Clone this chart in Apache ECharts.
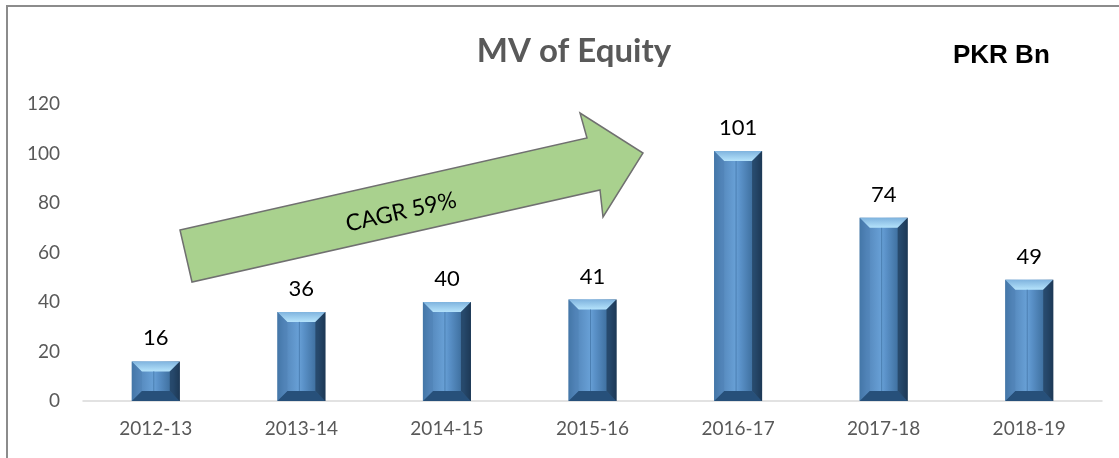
<!DOCTYPE html>
<html><head><meta charset="utf-8">
<script src="https://cdn.jsdelivr.net/npm/echarts@6/dist/echarts.min.js"></script>
<style>html,body{margin:0;padding:0;background:#fff}#c{width:1119px;height:458px}</style>
</head><body><div id="c"></div>
<script>
var categories = ['2012-13','2013-14','2014-15','2015-16','2016-17','2017-18','2018-19'];
var values = [16, 36, 40, 41, 101, 74, 49];
var yTicks = [0, 20, 40, 60, 80, 100, 120];
var titleText = 'MV of Equity';
var unitText = 'PKR Bn';
var arrowText = 'CAGR 59%';

var chart = echarts.init(document.getElementById('c'), null, {renderer:'canvas'});
var FONT = 'Lato, "Open Sans", sans-serif';

var barGrad = new echarts.graphic.LinearGradient(0,0,1,0,[
  {offset:0,color:'#3a6d9c'},{offset:0.15,color:'#5487bb'},
  {offset:0.45,color:'#68a0d6'},{offset:0.55,color:'#5a91c8'},
  {offset:0.85,color:'#3a6a98'},{offset:1,color:'#1b3450'}]);

function bevel(params, api){
  var v = api.value(1);
  var top = api.coord([api.value(0), v]);
  var bot = api.coord([api.value(0), 0]);
  var w = api.size([1,0])[0]*0.33;
  var x0 = top[0]-w/2, x1 = top[0]+w/2, y0 = top[1], y1 = bot[1];
  var b = Math.min(10, (y1-y0)/2.2);
  return {type:'group', children:[
    {type:'polygon', shape:{points:[[x0,y0],[x1,y0],[x1-b,y0+b],[x0+b,y0+b]]},
      style:{fill:new echarts.graphic.LinearGradient(0,0,0,1,[{offset:0,color:'#7fb3de'},{offset:1,color:'#b5e3fb'}])}},
    {type:'polygon', shape:{points:[[x0,y1],[x1,y1],[x1-b,y1-b],[x0+b,y1-b]]},
      style:{fill:'#27507a'}},
    {type:'polygon', shape:{points:[[x1,y0],[x1,y1],[x1-b,y1-b],[x1-b,y0+b]]},
      style:{fill:'#1e3a58', opacity:0.7}},
    {type:'polygon', shape:{points:[[x0,y0],[x0,y1],[x0+b,y1-b],[x0+b,y0+b]]},
      style:{fill:'#4d80b3', opacity:0.5}},
    {type:'line', shape:{x1:top[0]-2,y1:y0+b,x2:top[0]-2,y2:y1-b},
      style:{stroke:'#4b7fb2', lineWidth:1}}
  ]};
}

chart.setOption({
  animation:false,
  title:{text:titleText, left:569, top:30, textAlign:'center',
    textStyle:{fontFamily:FONT, fontSize:33, fontWeight:'bold', color:'#595959'}},
  grid:{left:83, right:17, top:104, bottom:57},
  xAxis:{type:'category', data:categories,
    axisLine:{lineStyle:{color:'#d9d9d9', width:1.5}}, axisTick:{show:false},
    axisLabel:{fontFamily:FONT, fontSize:19, color:'#595959', margin:18}},
  yAxis:{type:'value', min:yTicks[0], max:yTicks[yTicks.length-1], interval:yTicks[1]-yTicks[0],
    splitLine:{show:false}, axisLine:{show:false}, axisTick:{show:false},
    axisLabel:{fontFamily:FONT, fontSize:19, color:'#595959', margin:23}},
  series:[
    {type:'bar', data:values, barWidth:'33%', itemStyle:{color:barGrad},
      label:{show:true, position:'top', distance:12, fontFamily:FONT, fontSize:22, color:'#000'}},
    {type:'custom', renderItem:bevel, data:values.map(function(v,i){return [i,v];}), z:3}
  ],
  graphic:[
    {type:'rect', shape:{x:7, y:6, width:1200, height:500}, style:{fill:'none', stroke:'#8c8c8c', lineWidth:2}, z:-1},
    {type:'text', left:953, top:43, style:{text:unitText, fontFamily:'"Liberation Sans", Arial, sans-serif', fontSize:26, fontWeight:'bold', fill:'#000'}},
    {type:'polygon', z:10, shape:{points:[[180,230],[587,138],[580,113],[643,153],[603,217],[600,190],[192,282]]},
      style:{fill:'#a9d18e', stroke:'#707070', lineWidth:1.5}},
    {type:'text', z:11, x:401, y:212, rotation:12.7*Math.PI/180,
      style:{text:arrowText, fontFamily:FONT, fontSize:23, fill:'#000', align:'center', verticalAlign:'middle'}}
  ]
});
</script></body></html>
